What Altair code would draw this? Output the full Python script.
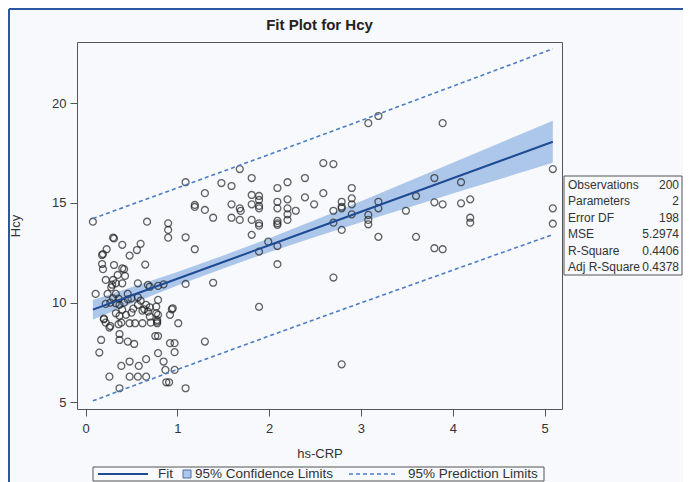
import altair as alt
import pandas as pd

# ---------------- data ----------------
hs_crp = [1.09, 1.48, 1.59, 1.30, 1.19, 1.19, 1.30, 1.59, 1.68, 1.69, 1.39, 1.59, 1.68, 1.68, 1.09, 1.19, 1.09, 1.39, 1.30, 1.09,
          1.81, 1.81, 1.89, 1.89, 1.89, 1.89, 1.81, 1.81, 1.89, 1.89, 1.81, 1.89, 1.89, 1.99, 2.09, 2.09, 2.09, 2.09, 2.09, 2.09,
          2.09, 2.09, 2.20, 2.20, 2.20, 2.20, 2.20, 2.29, 2.39, 2.39, 2.49, 2.59, 2.70, 2.59, 2.70, 2.70, 2.70, 2.79, 2.79, 2.79,
          2.79, 2.79, 2.90, 2.90, 2.90, 2.90, 3.08, 3.19, 3.08, 3.08, 3.08, 3.19, 3.19, 3.19, 3.49, 3.60, 3.60, 3.80, 3.80, 3.89,
          3.80, 3.89, 3.89, 4.09, 4.09, 4.19, 4.19, 4.19, 5.09, 5.09, 5.09, 1.01,
          0.08, 0.67, 0.30, 0.31, 0.40, 0.60, 0.23, 0.56, 0.19, 0.48, 0.18, 0.19, 0.31, 0.40, 0.42, 0.65, 0.35, 0.43, 0.22, 0.30,
          0.28, 0.29, 0.57, 0.68, 0.90, 0.90, 0.90, 0.79, 0.85, 0.70, 0.94, 0.92, 0.79, 0.78, 0.78, 0.70, 0.76, 0.79, 0.92, 0.97,
          0.79, 0.97, 0.85, 0.87, 0.97, 0.88, 0.91, 0.11, 0.24, 0.33, 0.30, 0.33, 0.37, 0.22, 0.46, 0.46, 0.50, 0.57, 0.57, 0.66,
          0.70, 0.64, 0.77, 0.77, 0.20, 0.22, 0.33, 0.37, 0.40, 0.44, 0.26, 0.36, 0.39, 0.48, 0.54, 0.62, 0.71, 0.37, 0.37, 0.46,
          0.53, 0.17, 0.15, 0.39, 0.48, 0.58, 0.66, 0.26, 0.48, 0.57, 0.66, 0.37, 0.78, 0.68, 0.79, 0.95, 0.18, 0.20, 0.27, 0.33,
          0.40, 0.36, 0.42, 0.52, 0.60, 0.50, 0.62, 0.27]

hcy = [16.04, 16.0, 15.85, 15.49, 14.9, 14.8, 14.65, 14.93, 14.73, 14.6, 14.26, 14.26, 14.15, 16.7, 13.28, 12.68, 10.94, 11.0, 8.05, 5.71,
       16.25, 15.4, 15.35, 15.15, 14.85, 14.73, 14.93, 14.15, 13.98, 13.86, 13.4, 12.56, 9.79, 13.06, 15.75, 15.06, 14.73, 14.1, 13.98, 13.9,
       12.84, 11.93, 16.04, 15.18, 14.73, 14.43, 14.15, 14.61, 16.25, 15.28, 14.93, 17.0, 16.95, 15.49, 14.61, 14.01, 11.26, 15.06, 14.81, 14.73,
       13.65, 6.91, 15.75, 15.23, 14.93, 14.43, 19.0, 19.36, 14.4, 14.15, 13.93, 15.06, 14.73, 13.3, 14.61, 15.35, 13.3, 16.25, 15.03, 14.93,
       12.73, 12.68, 19.0, 16.04, 14.98, 15.18, 14.26, 14.01, 16.7, 14.73, 13.96, 8.97,
       14.06, 14.06, 13.26, 13.22, 12.9, 12.95, 12.68, 12.64, 12.44, 12.36, 11.94, 11.68, 11.89, 11.72, 11.68, 11.91, 11.39, 11.34, 11.14, 11.14,
       10.77, 10.9, 10.97, 10.89, 13.98, 13.65, 13.26, 10.84, 10.92, 10.8, 9.67, 9.39, 9.39, 9.05, 8.97, 9.3, 8.33, 8.33, 7.97, 7.97,
       7.47, 7.52, 7.05, 6.63, 6.63, 6.01, 6.01, 10.44, 10.44, 10.44, 10.22, 9.97, 9.89, 9.94, 10.44, 10.17, 10.22, 10.27, 9.89, 9.89,
       9.77, 9.67, 9.8, 9.47, 9.17, 9.0, 9.47, 9.34, 9.64, 9.39, 8.75, 8.92, 9.0, 8.97, 8.97, 8.97, 9.0, 8.43, 8.13, 8.05,
       7.93, 8.13, 7.5, 6.83, 7.05, 6.83, 7.17, 6.29, 6.29, 6.29, 6.29, 5.71, 9.13, 9.55, 10.14, 9.72, 12.39, 9.2, 8.83, 10.97,
       10.97, 10.2, 10.0, 9.7, 10.1, 9.5, 9.6, 10.0]

band_x = [0.08, 0.5, 1.0, 1.5, 2.0, 2.5, 3.0, 3.5, 4.0, 4.5, 5.09]
fit_y = [9.65, 10.36, 11.20, 12.04, 12.88, 13.72, 14.56, 15.40, 16.24, 17.08, 18.07]
clm_lo = [9.16, 9.95, 10.86, 11.72, 12.53, 13.29, 14.03, 14.75, 15.47, 16.18, 17.02]
clm_hi = [10.14, 10.77, 11.54, 12.36, 13.23, 14.15, 15.09, 16.05, 17.01, 17.98, 19.12]
pl_lo = [5.08, 5.80, 6.65, 7.49, 8.33, 9.16, 9.99, 10.81, 11.63, 12.45, 13.41]
pl_hi = [14.22, 14.92, 15.75, 16.59, 17.43, 18.28, 19.13, 19.99, 20.85, 21.71, 22.73]

x_ticks = [0, 1, 2, 3, 4, 5]
y_ticks = [5, 10, 15, 20]

stat_labels = ["Observations", "Parameters", "Error DF", "MSE", "R-Square", "Adj R-Square"]
stat_values = ["200", "2", "198", "5.2974", "0.4406", "0.4378"]

legend_labels = ["Fit", "95% Confidence Limits", "95% Prediction Limits"]
chart_title = "Fit Plot for Hcy"

# ---------------- styling ----------------
FONT = "Liberation Sans"
BG = "#f7f9fc"
TXT = "#333333"
FIT_C = "#1f4a94"
BAND_C = "#adc7ea"
PL_C = "#4a7cc7"
W, H = 485, 367

pts = pd.DataFrame({"x": hs_crp, "y": hcy})
band = pd.DataFrame({"x": band_x, "fit": fit_y, "lclm": clm_lo, "uclm": clm_hi,
                     "lcl": pl_lo, "ucl": pl_hi})
dummy = pd.DataFrame({"d": [0]})

xs = alt.Scale(domain=[-0.093, 5.19], nice=False, zero=False)
ys = alt.Scale(domain=[4.67, 23.07], nice=False, zero=False)

xax = alt.Axis(values=x_ticks, format="d", grid=False, domain=False, tickSize=7,
               tickColor="#555555", labelFont=FONT, labelFontSize=13, labelColor=TXT,
               labelPadding=6, title="hs-CRP", titleFont=FONT, titleFontSize=13,
               titleFontWeight="normal", titleColor=TXT, titleY=44, titleBaseline="middle")
yax = alt.Axis(values=y_ticks, format="d", grid=False, domain=False, tickSize=7,
               tickColor="#555555", labelFont=FONT, labelFontSize=13, labelColor=TXT,
               labelPadding=4, title="Hcy", titleFont=FONT, titleFontSize=13,
               titleFontWeight="normal", titleColor=TXT, titleX=-62, titleY=H / 2,
               titleBaseline="middle", titleAngle=-90)

X = alt.X("x:Q", scale=xs, axis=xax)

band_layer = alt.Chart(band).mark_area(color=BAND_C, opacity=1).encode(
    x=X, y=alt.Y("lclm:Q", scale=ys, axis=yax), y2="uclm:Q")
points = alt.Chart(pts).mark_point(shape="circle", filled=False, color="#222222",
                                   size=48, strokeWidth=1.3).encode(
    x=X, y=alt.Y("y:Q", scale=ys, axis=yax))
fit_line = alt.Chart(band).mark_line(color=FIT_C, strokeWidth=2).encode(
    x=X, y=alt.Y("fit:Q", scale=ys, axis=yax))
ucl_line = alt.Chart(band).mark_line(color=PL_C, strokeWidth=1.6, strokeDash=[4, 3]).encode(
    x=X, y=alt.Y("ucl:Q", scale=ys, axis=yax))
lcl_line = alt.Chart(band).mark_line(color=PL_C, strokeWidth=1.6, strokeDash=[4, 3]).encode(
    x=X, y=alt.Y("lcl:Q", scale=ys, axis=yax))

layers = [band_layer, points, fit_line, ucl_line, lcl_line]

# ---------- title ----------
layers.append(alt.Chart(dummy).mark_text(text=chart_title, font=FONT, fontSize=15,
                                         fontWeight="bold", color="#222222",
                                         align="center", baseline="middle").encode(
    x=alt.value(W / 2), y=alt.value(-17)))

# ---------- statistics inset box ----------
BX0, BX1, BY0, BY1 = 487, 605, 134, 233
layers.append(alt.Chart(dummy).mark_rect(fill=BG, stroke="#555555", strokeWidth=1).encode(
    x=alt.value(BX0), x2=alt.value(BX1), y=alt.value(BY0), y2=alt.value(BY1)))
for i, (lab, val) in enumerate(zip(stat_labels, stat_values)):
    yy = BY0 + 8.5 + 16.5 * i
    layers.append(alt.Chart(dummy).mark_text(text=lab, font=FONT, fontSize=12, color=TXT,
                                             align="left", baseline="middle").encode(
        x=alt.value(BX0 + 4), y=alt.value(yy)))
    layers.append(alt.Chart(dummy).mark_text(text=val, font=FONT, fontSize=12, color=TXT,
                                             align="right", baseline="middle").encode(
        x=alt.value(BX1 - 3), y=alt.value(yy)))

# ---------- legend at the bottom ----------
LY = 432
layers.append(alt.Chart(dummy).mark_rect(fill=BG, stroke="#555555", strokeWidth=1).encode(
    x=alt.value(16), x2=alt.value(467), y=alt.value(LY - 7), y2=alt.value(LY + 7)))
layers.append(alt.Chart(dummy).mark_rule(color=FIT_C, strokeWidth=2).encode(
    x=alt.value(21), x2=alt.value(71), y=alt.value(LY)))
layers.append(alt.Chart(dummy).mark_text(text=legend_labels[0], font=FONT, fontSize=13.5,
                                         color=TXT, align="left", baseline="middle").encode(
    x=alt.value(81), y=alt.value(LY)))
layers.append(alt.Chart(dummy).mark_rect(fill=BAND_C, stroke="#4a6fa5", strokeWidth=1).encode(
    x=alt.value(106), x2=alt.value(114), y=alt.value(LY - 4), y2=alt.value(LY + 4)))
layers.append(alt.Chart(dummy).mark_text(text=legend_labels[1], font=FONT, fontSize=13.5,
                                         color=TXT, align="left", baseline="middle").encode(
    x=alt.value(118), y=alt.value(LY)))
layers.append(alt.Chart(dummy).mark_rule(color=PL_C, strokeWidth=1.6, strokeDash=[4, 3]).encode(
    x=alt.value(272), x2=alt.value(320), y=alt.value(LY)))
layers.append(alt.Chart(dummy).mark_text(text=legend_labels[2], font=FONT, fontSize=13.5,
                                         color=TXT, align="left", baseline="middle").encode(
    x=alt.value(331), y=alt.value(LY)))

# ---------- blue outer border (left and top) ----------
layers.append(alt.Chart(dummy).mark_rule(color="#2b57a6", strokeWidth=2).encode(
    x=alt.value(-68), y=alt.value(-33), y2=alt.value(445)))
layers.append(alt.Chart(dummy).mark_rule(color="#2b57a6", strokeWidth=2).encode(
    x=alt.value(-68), x2=alt.value(606), y=alt.value(-33)))

chart = alt.layer(*layers).properties(
    width=W, height=H,
    autosize=alt.AutoSizeParams(type="none"),
    padding={"left": 69, "top": 34, "right": 121, "bottom": 73},
    background=BG,
).configure_view(stroke="#555555", strokeWidth=1, fill=BG)

chart.save("out.html", embed_options={"renderer": "svg", "actions": False})
